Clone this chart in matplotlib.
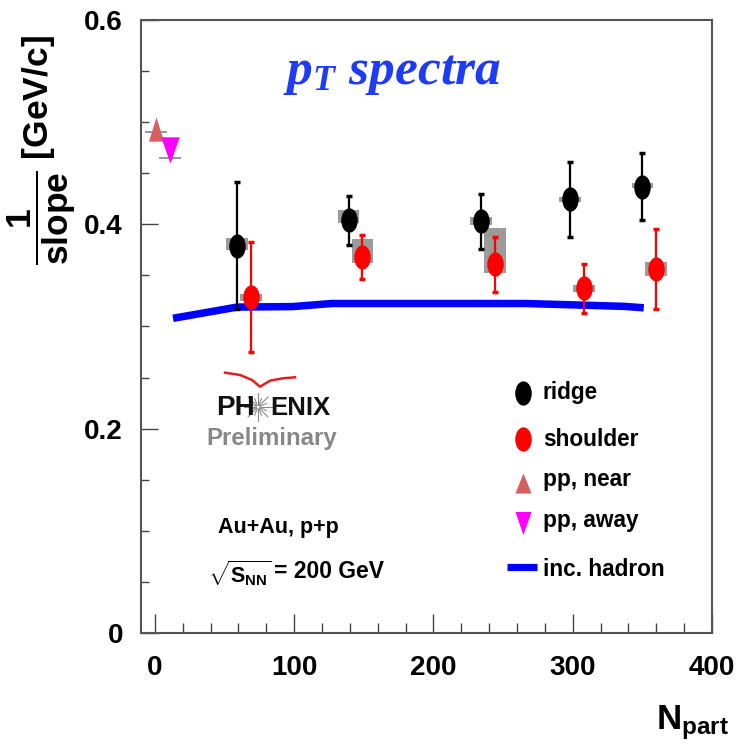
import matplotlib
matplotlib.use("Agg")
import numpy as np
import matplotlib.pyplot as plt
from matplotlib.path import Path
from matplotlib.transforms import Affine2D
from matplotlib.ticker import MultipleLocator, FixedLocator, FixedFormatter
from matplotlib import font_manager

# ---------------- data ----------------
ridge_npart = [59, 139, 234, 298, 350]
ridge_val = [0.379, 0.404, 0.403, 0.4245, 0.437]
ridge_err = [0.062, 0.024, 0.027, 0.037, 0.033]
ridge_sys_lo = [0.3753, 0.4016, 0.3993, 0.4222, 0.4352]
ridge_sys_hi = [0.3870, 0.4140, 0.4072, 0.4270, 0.4407]

shoulder_npart = [69, 149, 244, 308, 360]
shoulder_val = [0.329, 0.368, 0.361, 0.3375, 0.356]
shoulder_err = [0.054, 0.0215, 0.027, 0.024, 0.039]
shoulder_sys_lo = [0.3250, 0.3618, 0.3526, 0.3341, 0.3497]
shoulder_sys_hi = [0.3318, 0.3853, 0.3961, 0.3406, 0.3628]

pp_near_npart = [1]
pp_near_val = [0.493]
pp_near_sys_lo = [0.4895]
pp_near_sys_hi = [0.4915]

pp_away_npart = [11]
pp_away_val = [0.473]
pp_away_sys_lo = [0.4643]
pp_away_sys_hi = [0.4660]

hadron_npart = [13, 59, 99, 127, 266, 312, 337, 351]
hadron_val = [0.308, 0.319, 0.3195, 0.3225, 0.3225, 0.3207, 0.3197, 0.3183]

xticks = [0, 100, 200, 300, 400]
xtick_labels = ["0", "100", "200", "300", "400"]
yticks = [0.0, 0.2, 0.4, 0.6]
ytick_labels = ["0", "0.2", "0.4", "0.6"]

legend_labels = ["ridge", "shoulder", "pp, near", "pp, away", "inc. hadron"]

# ---------------- fonts ----------------
installed = {f.name for f in font_manager.fontManager.ttflist}
if "Liberation Sans Narrow" in installed:
    NARROW, nscale = "Liberation Sans Narrow", 1.0
else:
    NARROW, nscale = "Liberation Sans", 0.86

plt.rcParams["font.family"] = "Liberation Sans"
plt.rcParams["font.weight"] = "bold"
plt.rcParams["mathtext.fontset"] = "custom"
plt.rcParams["mathtext.rm"] = f"{NARROW}:bold"
plt.rcParams["mathtext.bf"] = f"{NARROW}:bold"
plt.rcParams["mathtext.it"] = "Liberation Serif:italic:bold"

W, H = 738, 750
fig = plt.figure(figsize=(W / 100, H / 100), dpi=100)
ax = fig.add_axes([141 / W, 117 / H, 571 / W, 613 / H])
ax.set_xlim(-10, 400)
ax.set_ylim(0, 0.6)


def fp(x, y):
    """pixel position (from top-left) -> figure fraction"""
    return x / W, 1 - y / H


def triangle(half_width, up=True):
    s = 1 if up else -1
    verts = [(-half_width, -0.5 * s), (half_width, -0.5 * s), (0.0, 0.5 * s),
             (-half_width, -0.5 * s)]
    return Path(verts, [Path.MOVETO, Path.LINETO, Path.LINETO, Path.CLOSEPOLY])


# marker shapes
ellipse = Path.unit_circle().transformed(Affine2D().scale(0.68, 1.0))
tri_up = triangle(0.31, up=True)
tri_down = triangle(0.35, up=False)
leg_tri_up = triangle(0.40, up=True)
leg_tri_down = triangle(0.35, up=False)

GRAY = "#9b9b9b"
RED = "#ff0000"
NEAR = "#d85f5f"
AWAY = "#ff00ff"
BLUE = "#0000ff"
MS = 17.5


# systematic boxes
def sys_boxes(x, lo, hi, width):
    lo = np.asarray(lo); hi = np.asarray(hi)
    ax.bar(x, hi - lo, bottom=lo, width=width, color=GRAY, linewidth=0, zorder=1)


sys_boxes(ridge_npart, ridge_sys_lo, ridge_sys_hi, 15.5)
sys_boxes(shoulder_npart, shoulder_sys_lo, shoulder_sys_hi, 15.5)
sys_boxes(pp_near_npart, pp_near_sys_lo, pp_near_sys_hi, 16)
sys_boxes(pp_away_npart, pp_away_sys_lo, pp_away_sys_hi, 16)

# inclusive hadron curve
ax.plot(hadron_npart, hadron_val, color=BLUE, lw=5.4, solid_capstyle="butt",
        solid_joinstyle="miter", zorder=2)

# statistical error bars and points
ax.errorbar(ridge_npart, ridge_val, yerr=ridge_err, fmt="none", ecolor="black",
            elinewidth=1.6, capsize=2, capthick=2.5, zorder=3)
ax.errorbar(shoulder_npart, shoulder_val, yerr=shoulder_err, fmt="none", ecolor=RED,
            elinewidth=1.6, capsize=2, capthick=2.5, zorder=3)
ax.plot(ridge_npart, ridge_val, ls="none", marker=ellipse, ms=MS, mew=0,
        color="black", zorder=4)
ax.plot(shoulder_npart, shoulder_val, ls="none", marker=ellipse, ms=MS, mew=0,
        color=RED, zorder=4)
ax.plot(pp_near_npart, pp_near_val, ls="none", marker=tri_up, ms=17.5, mew=0,
        color=NEAR, zorder=4)
ax.plot(pp_away_npart, pp_away_val, ls="none", marker=tri_down, ms=19, mew=0,
        color=AWAY, zorder=4)

# axes styling
for s in ax.spines.values():
    s.set_color("#555555")
    s.set_linewidth(1.5)
ax.xaxis.set_major_locator(FixedLocator(xticks))
ax.xaxis.set_major_formatter(FixedFormatter(xtick_labels))
ax.xaxis.set_minor_locator(MultipleLocator(20))
ax.yaxis.set_major_locator(FixedLocator(yticks))
ax.yaxis.set_major_formatter(FixedFormatter(ytick_labels))
ax.yaxis.set_minor_locator(MultipleLocator(0.05))
ax.tick_params(axis="x", which="major", direction="in", length=13.5, width=1,
               color="#444444", labelsize=20, pad=16)
ax.tick_params(axis="x", which="minor", direction="in", length=7, width=1,
               color="#444444")
ax.tick_params(axis="y", which="major", direction="in", length=12, width=1,
               color="#444444", labelsize=20, pad=13)
ax.tick_params(axis="y", which="minor", direction="in", length=6, width=1,
               color="#444444")
for lab in ax.get_xticklabels() + ax.get_yticklabels():
    lab.set_fontweight("bold")

# axis titles
fig.text(*fp(42, 150), r"$\dfrac{\mathrm{1}}{\mathrm{slope}}\ \mathrm{[GeV/c]}$",
         rotation=90, ha="center", va="center", fontsize=25.5)
fig.text(*fp(656, 730), r"$\mathrm{N}_{\mathrm{part}}$", ha="left", va="baseline",
         fontsize=25)

# title
fig.text(*fp(392, 84), r"$p_T\ spectra$", ha="center", va="baseline",
         fontsize=37, color="#1e3cf6")

# legend
lx_mark, lx_text = 522.5, 543
ly = [393, 440, 479, 520, 569]
lfs = 19 * nscale
ax.plot(*fp(lx_mark, 393), transform=fig.transFigure, marker=ellipse, ms=MS,
        mew=0, color="black", clip_on=False)
ax.plot(*fp(lx_mark, 439), transform=fig.transFigure, marker=ellipse, ms=MS,
        mew=0, color=RED, clip_on=False)
ax.plot(*fp(lx_mark, 483), transform=fig.transFigure, marker=leg_tri_up, ms=14.5,
        mew=0, color=NEAR, clip_on=False)
ax.plot(*fp(lx_mark, 523), transform=fig.transFigure, marker=leg_tri_down, ms=16.6,
        mew=0, color=AWAY, clip_on=False)
x0, y0 = fp(507, 567)
x1, _ = fp(537, 567)
ax.plot([x0, x1], [y0, y0], transform=fig.transFigure, color=BLUE, lw=5.2,
        solid_capstyle="butt", clip_on=False)
for lab, y in zip(legend_labels, ly):
    fig.text(*fp(lx_text, y), lab, ha="left", va="center", fontsize=lfs,
             family=NARROW, fontweight="bold")

# collision system
fig.text(*fp(218, 527), "Au+Au, p+p", ha="left", va="center", fontsize=15.5,
         family=NARROW, fontweight="bold")
fig.text(*fp(208, 573), r"$\sqrt{\mathrm{S}_{\mathrm{NN}}}$",
         ha="left", va="center", fontsize=15.5, family=NARROW, fontweight="bold")
fig.text(*fp(274, 571), "= 200 GeV",
         ha="left", va="center", fontsize=16.5, family=NARROW, fontweight="bold")

# PHENIX preliminary logo
arc_x = [225, 240, 252, 260, 270, 283, 295]
arc_y = [372.7, 375.0, 380.0, 386.7, 380.7, 378.3, 377.3]
arc = [fp(a, b) for a, b in zip(arc_x, arc_y)]
ax.plot([p[0] for p in arc], [p[1] for p in arc], transform=fig.transFigure,
        color="#e02020", lw=1.8, clip_on=False)
fig.text(*fp(216, 408), "PH", ha="left", va="center", fontsize=20,
         family=NARROW, fontweight="bold", color="#111111")
fig.text(*fp(270, 408), "ENIX", ha="left", va="center", fontsize=18.5,
         family=NARROW, fontweight="bold", color="#111111")
cx, cy = 258, 407
for ang in np.linspace(0, 2 * np.pi, 16, endpoint=False):
    r = 14 if int(round(ang * 8 / np.pi)) % 2 == 0 else 9
    xa, ya = fp(cx + 2 * np.cos(ang), cy - 2 * np.sin(ang))
    xb, yb = fp(cx + r * np.cos(ang), cy - r * np.sin(ang))
    ax.plot([xa, xb], [ya, yb], transform=fig.transFigure, color="#8a8a8a",
            lw=0.8, clip_on=False)
fig.text(*fp(206, 438), "Preliminary", ha="left", va="center",
         fontsize=17.3, family=NARROW, fontweight="bold", color="#888888")

fig.savefig("out.png", dpi=100)
